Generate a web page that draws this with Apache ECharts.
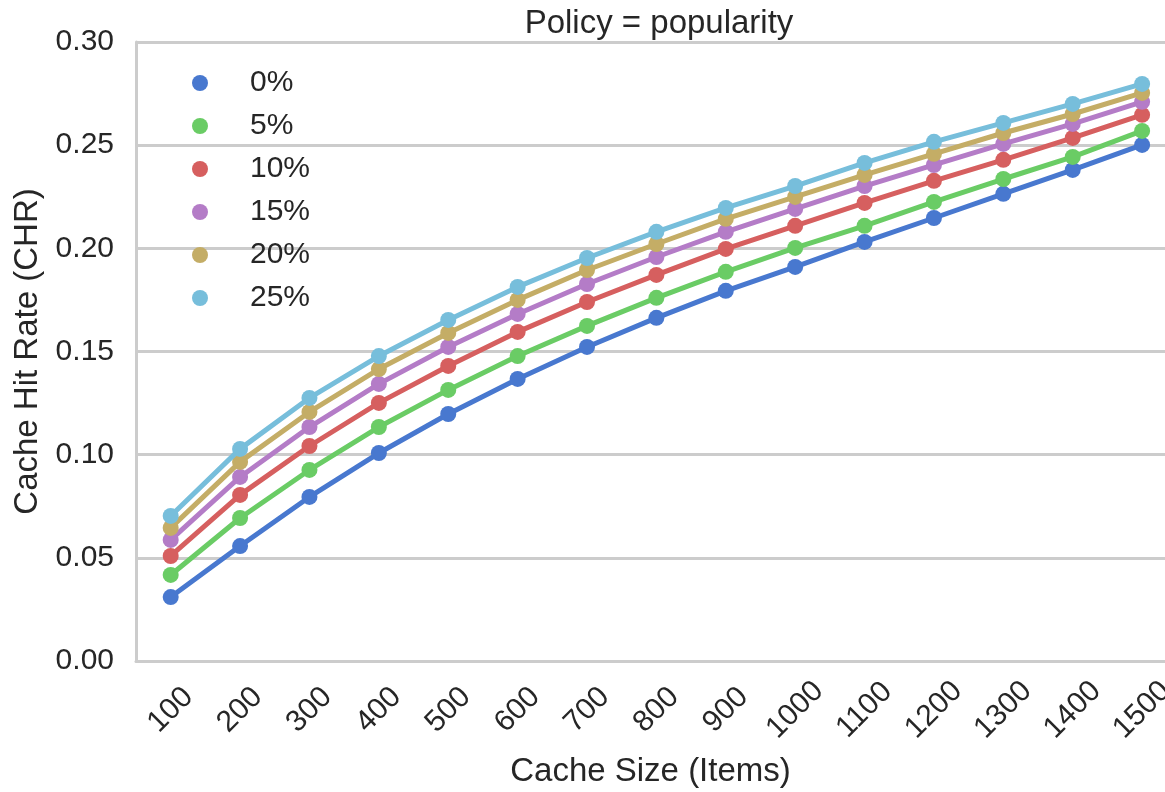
<!DOCTYPE html>
<html lang="en">
<head>
    <meta charset="UTF-8">
    <title>Policy = popularity</title>
    <script src="https://cdn.jsdelivr.net/npm/echarts@6/dist/echarts.min.js"></script>
    <style>
        html, body { margin: 0; padding: 0; background: #fff; }
        #charts { width: 1165px; height: 792px; }
    </style>
</head>
<body>
<div id="charts"></div>
<script>
    // cache sizes on the x axis (also the tick labels)
    var cacheSizes = [100, 200, 300, 400, 500, 600, 700, 800, 900, 1000, 1100, 1200, 1300, 1400, 1500];

    // hit rates per share
    var chr0 = [0.031, 0.0557, 0.0795, 0.1008, 0.1197, 0.1367, 0.1522, 0.1663, 0.1794, 0.191, 0.2031, 0.2147, 0.2264, 0.238, 0.2501];
    var chr5 = [0.0417, 0.0693, 0.0926, 0.1134, 0.1314, 0.1478, 0.1624, 0.176, 0.1886, 0.2002, 0.2109, 0.2225, 0.2336, 0.2443, 0.2569];
    var chr10 = [0.0509, 0.0805, 0.1042, 0.1251, 0.143, 0.1595, 0.174, 0.1871, 0.1997, 0.2109, 0.222, 0.2327, 0.2429, 0.2535, 0.2647];
    var chr15 = [0.0587, 0.0892, 0.1134, 0.1343, 0.1522, 0.1682, 0.1827, 0.1958, 0.208, 0.2191, 0.2302, 0.2404, 0.2506, 0.2603, 0.271];
    var chr20 = [0.0645, 0.0965, 0.1207, 0.1415, 0.159, 0.175, 0.1895, 0.2021, 0.2143, 0.2249, 0.2356, 0.2458, 0.2559, 0.2651, 0.2753];
    var chr25 = [0.0703, 0.1028, 0.1275, 0.1478, 0.1653, 0.1813, 0.1953, 0.208, 0.2196, 0.2302, 0.2414, 0.2516, 0.2608, 0.27, 0.2797];

    var seriesNames = ['0%', '5%', '10%', '15%', '20%', '25%'];
    var seriesData = [chr0, chr5, chr10, chr15, chr20, chr25];
    var colors = ['#4878CF', '#6ACC65', '#D65F5F', '#B47CC7', '#C4AD66', '#77BEDB'];

    var font = 'Liberation Sans, Arial, sans-serif';
    var textColor = '#262626';

    var series = seriesNames.map(function (name, i) {
        return {
            name: name,
            type: 'line',
            data: cacheSizes.map(function (x, j) { return [x, seriesData[i][j]]; }),
            symbol: 'circle',
            symbolSize: 16,
            lineStyle: { width: 5, color: colors[i] },
            itemStyle: { color: colors[i] },
            z: 2 + i
        };
    });

    var myChart = echarts.init(document.getElementById('charts'));
    myChart.setOption({
        animation: false,
        title: {
            text: 'Policy = popularity',
            left: 654,
            top: 2,
            textAlign: 'center',
            textStyle: { fontFamily: font, fontWeight: 'normal', fontSize: 33, color: textColor }
        },
        legend: {
            orient: 'vertical',
            left: 187,
            top: 63,
            icon: 'circle',
            itemWidth: 16,
            itemHeight: 16,
            itemGap: 13,
            data: seriesNames,
            textStyle: {
                fontFamily: font,
                fontSize: 30,
                color: textColor,
                padding: [0, 0, 0, 37],
                lineHeight: 30
            }
        },
        grid: {
            left: 136,
            right: 0,
            top: 42,
            bottom: 131,
            outerBoundsMode: 'none'
        },
        xAxis: {
            // the plot runs half a step past 100 on the left and is cut on the right
            type: 'value',
            min: 50,
            max: 1533,
            name: 'Cache Size (Items)',
            nameLocation: 'middle',
            nameGap: 94,
            nameTextStyle: { fontFamily: font, fontSize: 33, color: textColor },
            axisLine: { show: true, lineStyle: { color: '#cccccc', width: 3 } },
            axisTick: { show: false, customValues: cacheSizes },
            axisLabel: {
                customValues: cacheSizes,
                formatter: function (v) { return String(v); },
                rotate: 45,
                align: 'center',
                verticalAlign: 'middle',
                margin: 49,
                fontFamily: font,
                fontSize: 30,
                color: textColor
            },
            splitLine: { show: false }
        },
        yAxis: {
            type: 'value',
            min: 0,
            max: 0.3,
            interval: 0.05,
            name: 'Cache Hit Rate (CHR)',
            nameLocation: 'middle',
            nameGap: 91,
            nameTextStyle: { fontFamily: font, fontSize: 33, color: textColor },
            axisLine: { show: true, lineStyle: { color: '#cccccc', width: 3 } },
            axisTick: { show: false },
            axisLabel: {
                margin: 22,
                fontFamily: font,
                fontSize: 30,
                color: textColor,
                formatter: function (v) { return v.toFixed(2); }
            },
            splitLine: { show: true, lineStyle: { color: '#cccccc', width: 3 } }
        },
        series: series
    });
</script>
</body>
</html>
